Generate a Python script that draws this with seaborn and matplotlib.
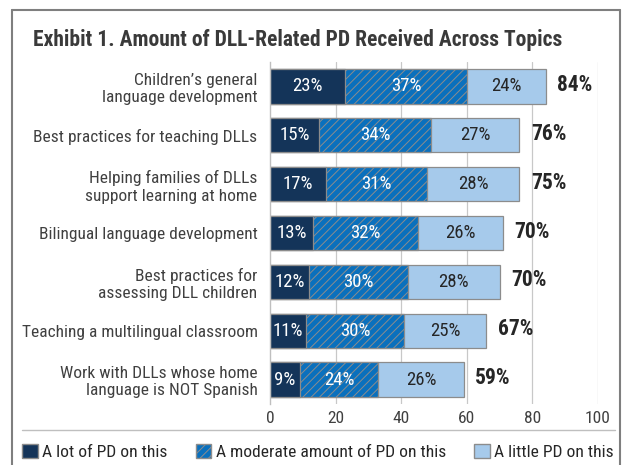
import matplotlib
matplotlib.use("Agg")
import matplotlib.pyplot as plt
import matplotlib.patches as mpatches
from matplotlib import font_manager
import seaborn as sns
import pandas as pd

topics = [
    "Children\u2019s general\nlanguage development",
    "Best practices for teaching DLLs",
    "Helping families of DLLs\nsupport learning at home",
    "Bilingual language development",
    "Best practices for\nassessing DLL children",
    "Teaching a multilingual classroom",
    "Work with DLLs whose home\nlanguage is NOT Spanish",
]
a_lot = [23, 15, 17, 13, 12, 11, 9]
moderate = [37, 34, 31, 32, 30, 30, 24]
a_little = [24, 27, 28, 26, 28, 25, 26]
totals = [84, 76, 75, 70, 70, 67, 59]
series_names = ["A lot of PD on this", "A moderate amount of PD on this", "A little PD on this"]
xticks = [0, 20, 40, 60, 80, 100]

sns.set_theme(style="white")
names = {f.name for f in font_manager.fontManager.ttflist}
cands = ["Roboto Condensed", "Archivo Narrow", "PT Sans Narrow", "Barlow Condensed",
         "Open Sans Condensed", "IBM Plex Sans Condensed", "Pathway Gothic One"]
fam = next((c for c in cands if c in names), "DejaVu Sans")
plt.rcParams["font.family"] = [fam, "DejaVu Sans"]
plt.rcParams["hatch.color"] = "white"
plt.rcParams["hatch.linewidth"] = 0.7

c_dark = "#143459"
c_mid = "#0A70BD"
c_light = "#A6CAEB"
edge = "#8C8C8C"

df = pd.DataFrame({"topic": topics, "lot": a_lot, "mod": moderate, "little": a_little})
df["c1"] = df["lot"]
df["c2"] = df["lot"] + df["mod"]
df["c3"] = df["lot"] + df["mod"] + df["little"]

fig = plt.figure(figsize=(6.24, 4.65), dpi=100)
ax = fig.add_axes([270 / 624, 1 - 404 / 465, 328 / 624, 342 / 465])

sns.barplot(data=df, y="topic", x="c3", color=c_light, orient="h", width=0.7, saturation=1,
            edgecolor=edge, linewidth=0.9, ax=ax, zorder=2)
sns.barplot(data=df, y="topic", x="c2", color=c_mid, orient="h", width=0.7, saturation=1,
            edgecolor=edge, linewidth=0.9, hatch="////", ax=ax, zorder=3)
sns.barplot(data=df, y="topic", x="c1", color=c_dark, orient="h", width=0.7, saturation=1,
            edgecolor=edge, linewidth=0.9, ax=ax, zorder=4)
for p in ax.patches:
    p.set_alpha(1)

for i in range(len(topics)):
    ax.text(df["c1"][i] / 2, i, f"{a_lot[i]}%", ha="center", va="center",
            color="white", fontsize=13.5, zorder=6)
    ax.text(df["c1"][i] + moderate[i] / 2, i, f"{moderate[i]}%", ha="center", va="center",
            color="white", fontsize=13.5, zorder=6)
    ax.text(df["c2"][i] + a_little[i] / 2, i, f"{a_little[i]}%", ha="center", va="center",
            color="#262626", fontsize=13.5, zorder=6)
    ax.text(df["c3"][i] + 3.5, i - 0.03, f"{totals[i]}%", ha="left", va="center",
            color="#262626", fontsize=15.5, fontweight="bold", zorder=6)

ax.set_xlim(0, 100)
ax.set_ylim(6.5, -0.5)
ax.set_xticks(xticks)
ax.set_xticklabels([str(t) for t in xticks], fontsize=12.5, color="#404040")
ax.set_xlabel("")
ax.set_ylabel("")
ax.tick_params(axis="y", labelsize=12.5, labelcolor="#404040", length=0, pad=9)
ax.tick_params(axis="x", length=0, pad=5)
for lab in ax.get_yticklabels():
    lab.set_multialignment("right")
ax.grid(False)
for t in xticks[1:]:
    ax.axvline(t, color="#C8C8C8", linewidth=0.9, zorder=0)
for s in ["top", "right", "bottom"]:
    ax.spines[s].set_visible(False)
ax.spines["left"].set_color("#BFBFBF")
ax.spines["left"].set_linewidth(1)
ax.spines["left"].set_zorder(5)

fr = "#7F7F7F"
fig.add_artist(plt.Line2D([12 / 624, 12 / 624], [0, 1 - 10 / 465], transform=fig.transFigure,
                          color=fr, linewidth=1.5))
fig.add_artist(plt.Line2D([12 / 624, 620 / 624], [1 - 10 / 465, 1 - 10 / 465], transform=fig.transFigure,
                          color=fr, linewidth=1.5))
fig.add_artist(plt.Line2D([620 / 624, 620 / 624], [0, 1 - 10 / 465], transform=fig.transFigure,
                          color=fr, linewidth=1.5))
fig.add_artist(plt.Line2D([22 / 624, 615 / 624], [1 - 430 / 465, 1 - 430 / 465], transform=fig.transFigure,
                          color="#BFBFBF", linewidth=1))
fig.text(33 / 624, 1 - 40 / 465, "Exhibit 1. Amount of DLL-Related PD Received Across Topics",
         fontsize=15.5, fontweight="bold", color="#3A3A3A", ha="left", va="center")

handles = [
    mpatches.Patch(facecolor=c_dark, edgecolor=edge, label=series_names[0]),
    mpatches.Patch(facecolor=c_mid, edgecolor=edge, hatch="////", label=series_names[1]),
    mpatches.Patch(facecolor=c_light, edgecolor=edge, label=series_names[2]),
]
fig.legend(handles=handles, loc="center", bbox_to_anchor=(318 / 624, 1 - 452 / 465), ncol=3,
           frameon=False, fontsize=12.6, handlelength=0.9, handleheight=0.9, handletextpad=0.25,
           columnspacing=1.6, labelcolor="#262626")

fig.savefig("out.png", dpi=100)
